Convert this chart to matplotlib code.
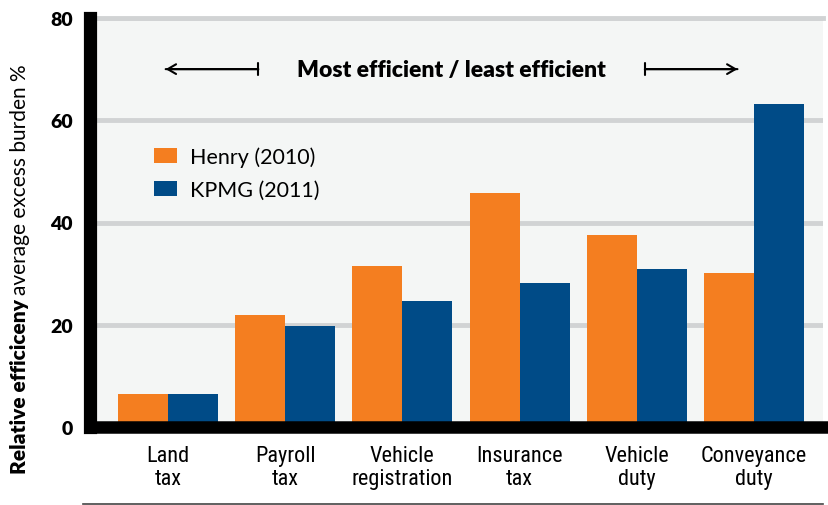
import matplotlib
matplotlib.use('Agg')
import numpy as np
import matplotlib.pyplot as plt
from matplotlib import font_manager
from matplotlib.font_manager import FontProperties
from matplotlib.lines import Line2D

# ─── data ────────────────────────────────────────────────────────────────────
categories = ["Land\ntax", "Payroll\ntax", "Vehicle\nregistration",
              "Insurance\ntax", "Vehicle\nduty", "Conveyance\nduty"]
henry_2010 = [6.5, 22.0, 31.4, 45.7, 37.5, 30.2]
kpmg_2011  = [6.5, 19.8, 24.7, 28.2, 31.0, 63.1]
series_labels = ["Henry (2010)", "KPMG (2011)"]
y_ticks = [0, 20, 40, 60, 80]

ORANGE = "#f47e20"
BLUE   = "#004b87"
GRID   = "#d1d3d4"
BG     = "#f4f6f5"

installed = {f.name for f in font_manager.fontManager.ttflist}
MAIN = "Lato" if "Lato" in installed else "DejaVu Sans"

# look for a condensed face for the category labels
narrow_file = None
for want in ("LiberationSansNarrow-Regular", "RobotoCondensed-Regular",
             "DejaVuSansCondensed.ttf", "Condensed-Regular"):
    hits = [f.fname for f in font_manager.fontManager.ttflist if want in f.fname]
    if hits:
        narrow_file = hits[0]
        break
narrow_fp = FontProperties(fname=narrow_file, size=16) if narrow_file else FontProperties(family=MAIN, size=15)

plt.rcParams['font.family'] = [MAIN, 'DejaVu Sans']

W, H = 829, 506
fig = plt.figure(figsize=(W / 100, H / 100), dpi=100)
# axes: left spine centre at x=89.5px, right edge 823px, y=0 at 428px, y=80 at 19px
ax = fig.add_axes([89.5 / W, 1 - 428 / H, (823 - 89.5) / W, (428 - 19) / H])
ax.set_facecolor(BG)

x = np.arange(len(categories))
bw = 0.4266
ax.bar(x - bw / 2, henry_2010, bw, color=ORANGE, label=series_labels[0], zorder=3)
ax.bar(x + bw / 2, kpmg_2011,  bw, color=BLUE,   label=series_labels[1], zorder=3)

ax.set_xlim(-0.67, 5.59)
ax.set_ylim(0, 80)
ax.set_yticks(y_ticks)
ax.set_xticks(x)
ax.set_xticklabels(categories, fontproperties=narrow_fp, linespacing=1.12)
for lab in ax.get_yticklabels():
    lab.set_fontweight('heavy')
    lab.set_fontsize(14)
ax.tick_params(axis='y', length=0, pad=12)
ax.tick_params(axis='x', length=0, pad=13)

ax.yaxis.grid(True, color=GRID, linewidth=3.5, zorder=1)
ax.set_axisbelow(True)
for s in ("top", "right"):
    ax.spines[s].set_visible(False)
ax.spines["left"].set_linewidth(9.5)
ax.spines["bottom"].set_linewidth(9)
ax.spines["left"].set_zorder(5)
ax.spines["bottom"].set_zorder(5)
ax.spines["left"].set_capstyle('projecting')

# top gridline at 80 drawn over the axes edge
ax.axhline(80, color=GRID, linewidth=3.5, zorder=1, clip_on=False)

# legend
ax.legend(loc='upper left', bbox_to_anchor=(154 / W, 1 - 147 / H),
          bbox_transform=fig.transFigure, frameon=False, fontsize=15.5,
          handlelength=1.07, handleheight=0.7, handletextpad=0.58,
          labelspacing=0.62, borderpad=0, borderaxespad=0)

# efficiency annotation
ax.text(2.42, 70, "Most efficient / least efficient", ha='center', va='center',
        fontsize=16.5, fontweight='heavy', zorder=6)
for head, tail in [(-0.02, 0.77), (4.86, 4.07)]:
    ax.annotate("", xy=(head, 70), xytext=(tail, 70),
                arrowprops=dict(arrowstyle="->, head_length=0.6, head_width=0.35",
                                color='black', lw=1.5, shrinkA=0, shrinkB=0))
    ax.annotate("", xy=(head, 70), xytext=(tail, 70),
                arrowprops=dict(arrowstyle="|-|, widthA=0.45, widthB=0",
                                color='black', lw=1.5, shrinkA=0, shrinkB=0))

# y label: bold part then regular part
t1 = fig.text(20 / W, 1 - 474 / H, "Relative efficiceny", rotation=90,
              ha='center', va='bottom', fontsize=15, fontweight='heavy')
fig.canvas.draw()
bb = t1.get_window_extent(fig.canvas.get_renderer())
fig.text(20 / W, (bb.y1 + 4) / H, "average excess burden %", rotation=90,
         ha='center', va='bottom', fontsize=15)

# bottom rule
fig.add_artist(Line2D([83 / W, 823 / W], [1 - 505 / H, 1 - 505 / H],
                      transform=fig.transFigure, color='#444444', lw=1.2))

fig.savefig("out.png", dpi=100)
